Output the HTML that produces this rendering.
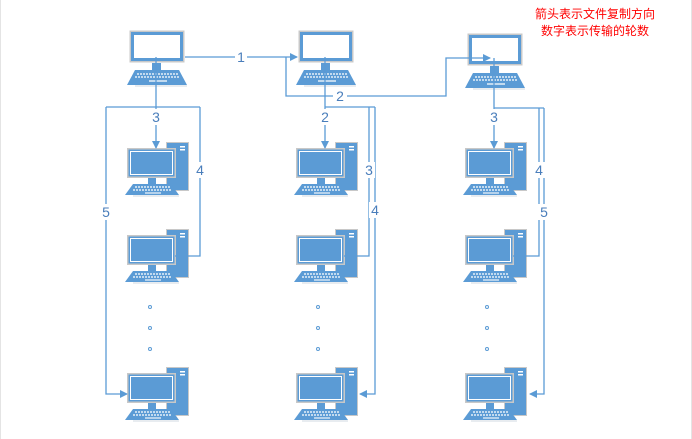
<!DOCTYPE html>
<html><head><meta charset="utf-8"><style>
html,body{margin:0;padding:0;background:#fff;}
svg{display:block;}
text{font-family:"Liberation Sans","Noto Sans CJK SC",sans-serif;}
</style></head><body>
<svg width="692" height="439" viewBox="0 0 692 439" xmlns="http://www.w3.org/2000/svg">
<defs>
<symbol id="lap" overflow="visible">
  <rect x="0.5" y="0.5" width="55" height="32" fill="#c8c8c8"/>
  <rect x="2" y="2" width="52" height="29" fill="#5b9bd5"/>
  <rect x="5" y="5" width="46" height="23" fill="#fff"/>
  <rect x="23" y="33" width="9" height="7" fill="#5b9bd5"/>
  <polygon points="6,40 50,40 58,55 -2,55" fill="#5b9bd5"/>
  <line x1="6" y1="56" x2="58" y2="56" stroke="#d0d8e0" stroke-width="1"/>
  <g stroke="#fff" stroke-width="1.2" stroke-dasharray="2 1">
    <line x1="8" y1="44" x2="49" y2="44"/>
    <line x1="6" y1="47" x2="51" y2="47"/>
  </g>
  <line x1="20" y1="51" x2="38" y2="51" stroke="#fff" stroke-width="1.2"/>
</symbol>
<symbol id="desk" overflow="visible">
  <rect x="39" y="0" width="23" height="49" fill="#c8c8c8"/>
  <rect x="40" y="1" width="21" height="47" fill="#5b9bd5"/>
  <rect x="53" y="4" width="5" height="1.5" fill="#fff"/>
  <rect x="53" y="7" width="5" height="1.5" fill="#fff"/>
  <rect x="0" y="6" width="49" height="30" fill="#c8c8c8"/>
  <rect x="1.5" y="7.5" width="46" height="27" fill="#5b9bd5"/>
  <rect x="3.5" y="9.5" width="42" height="23" fill="none" stroke="#fff" stroke-width="1"/>
  <rect x="21" y="36" width="8" height="6" fill="#5b9bd5"/>
  <polygon points="6,42 44,42 52,53 -2,53" fill="#5b9bd5"/>
  <line x1="6" y1="54" x2="52" y2="54" stroke="#d0d8e0" stroke-width="1"/>
  <g stroke="#fff" stroke-width="1.2" stroke-dasharray="2 1">
    <line x1="8" y1="45" x2="43" y2="45"/>
    <line x1="6" y1="48" x2="45" y2="48"/>
  </g>
  <line x1="18" y1="51" x2="34" y2="51" stroke="#fff" stroke-width="1.1"/>
</symbol>
<marker id="ar" markerWidth="8" markerHeight="8" refX="7" refY="4" orient="auto" markerUnits="userSpaceOnUse">
  <path d="M0,0 L8,4 L0,8 z" fill="#5b9bd5"/>
</marker>
</defs>
<line x1="0.5" y1="0" x2="0.5" y2="439" stroke="#e4e4e4"/>
<line x1="691.5" y1="0" x2="691.5" y2="439" stroke="#e4e4e4"/>

<!-- laptops -->
<use href="#lap" x="129" y="30"/>
<use href="#lap" x="298" y="30"/>
<use href="#lap" x="467" y="33"/>

<!-- desktops -->
<g>
<use href="#desk" x="127" y="142"/>
<use href="#desk" x="127" y="229"/>
<use href="#desk" x="127" y="367"/>
<use href="#desk" x="296" y="142"/>
<use href="#desk" x="296" y="229"/>
<use href="#desk" x="296" y="367"/>
<use href="#desk" x="465" y="142"/>
<use href="#desk" x="465" y="229"/>
<use href="#desk" x="465" y="367"/>
</g>

<g fill="none" stroke="#5b9bd5" stroke-width="1.3">
  <!-- 1 -->
  <polyline points="185,57 297,57" marker-end="url(#ar)"/>
  <!-- 2 to right laptop -->
  <polyline points="286,57 286,96 446,96 446,58 490,58" marker-end="url(#ar)"/>
  <!-- col1 -->
  <polyline points="156,57 156,148" marker-end="url(#ar)"/>
  <polyline points="106,107 200,107"/>
  <polyline points="200,107 200,256 175,256"/>
  <polyline points="106,107 106,394 127,394" marker-end="url(#ar)"/>
  <!-- col2 -->
  <polyline points="325,57 325,148" marker-end="url(#ar)"/>
  <polyline points="325,107 375,107"/>
  <polyline points="369,107 369,256 344,256"/>
  <polyline points="375,107 375,394 360,394" marker-end="url(#ar)"/>
  <!-- col3 -->
  <polyline points="494,58 494,148" marker-end="url(#ar)"/>
  <polyline points="494,108 544,108"/>
  <polyline points="539,108 539,256 513,256"/>
  <polyline points="544,108 544,394 530,394" marker-end="url(#ar)"/>
</g>

<!-- labels with white backgrounds -->
<g fill="#fff">
  <rect x="235" y="49" width="12" height="16"/>
  <rect x="333" y="88" width="14" height="16"/>
  <rect x="150" y="109" width="12" height="16"/>
  <rect x="319" y="109" width="12" height="16"/>
  <rect x="488" y="109" width="12" height="16"/>
  <rect x="194" y="162" width="12" height="16"/>
  <rect x="100" y="204" width="12" height="16"/>
  <rect x="363" y="162" width="12" height="16"/>
  <rect x="369" y="202" width="12" height="16"/>
  <rect x="533" y="162" width="12" height="16"/>
  <rect x="538" y="204" width="12" height="16"/>
</g>
<g fill="#4a7ebb" font-size="14" text-anchor="middle">
  <text x="241" y="62">1</text>
  <text x="340" y="101">2</text>
  <text x="156" y="122">3</text>
  <text x="325" y="122">2</text>
  <text x="494" y="122">3</text>
  <text x="200" y="175">4</text>
  <text x="106" y="217">5</text>
  <text x="369" y="175">3</text>
  <text x="375" y="215">4</text>
  <text x="539" y="175">4</text>
  <text x="544" y="217">5</text>
</g>

<!-- dots -->
<g fill="none" stroke="#5b9bd5" stroke-width="1">
  <circle cx="150" cy="307" r="1.5"/><circle cx="150" cy="328" r="1.5"/><circle cx="150" cy="349" r="1.5"/>
  <circle cx="318" cy="307" r="1.5"/><circle cx="318" cy="328" r="1.5"/><circle cx="318" cy="349" r="1.5"/>
  <circle cx="487" cy="307" r="1.5"/><circle cx="487" cy="328" r="1.5"/><circle cx="487" cy="349" r="1.5"/>
</g>

<g fill="#ff0000" font-size="12" text-anchor="middle">
  <text x="595" y="18">箭头表示文件复制方向</text>
  <text x="595" y="35">数字表示传输的轮数</text>
</g>
</svg>
</body></html>
